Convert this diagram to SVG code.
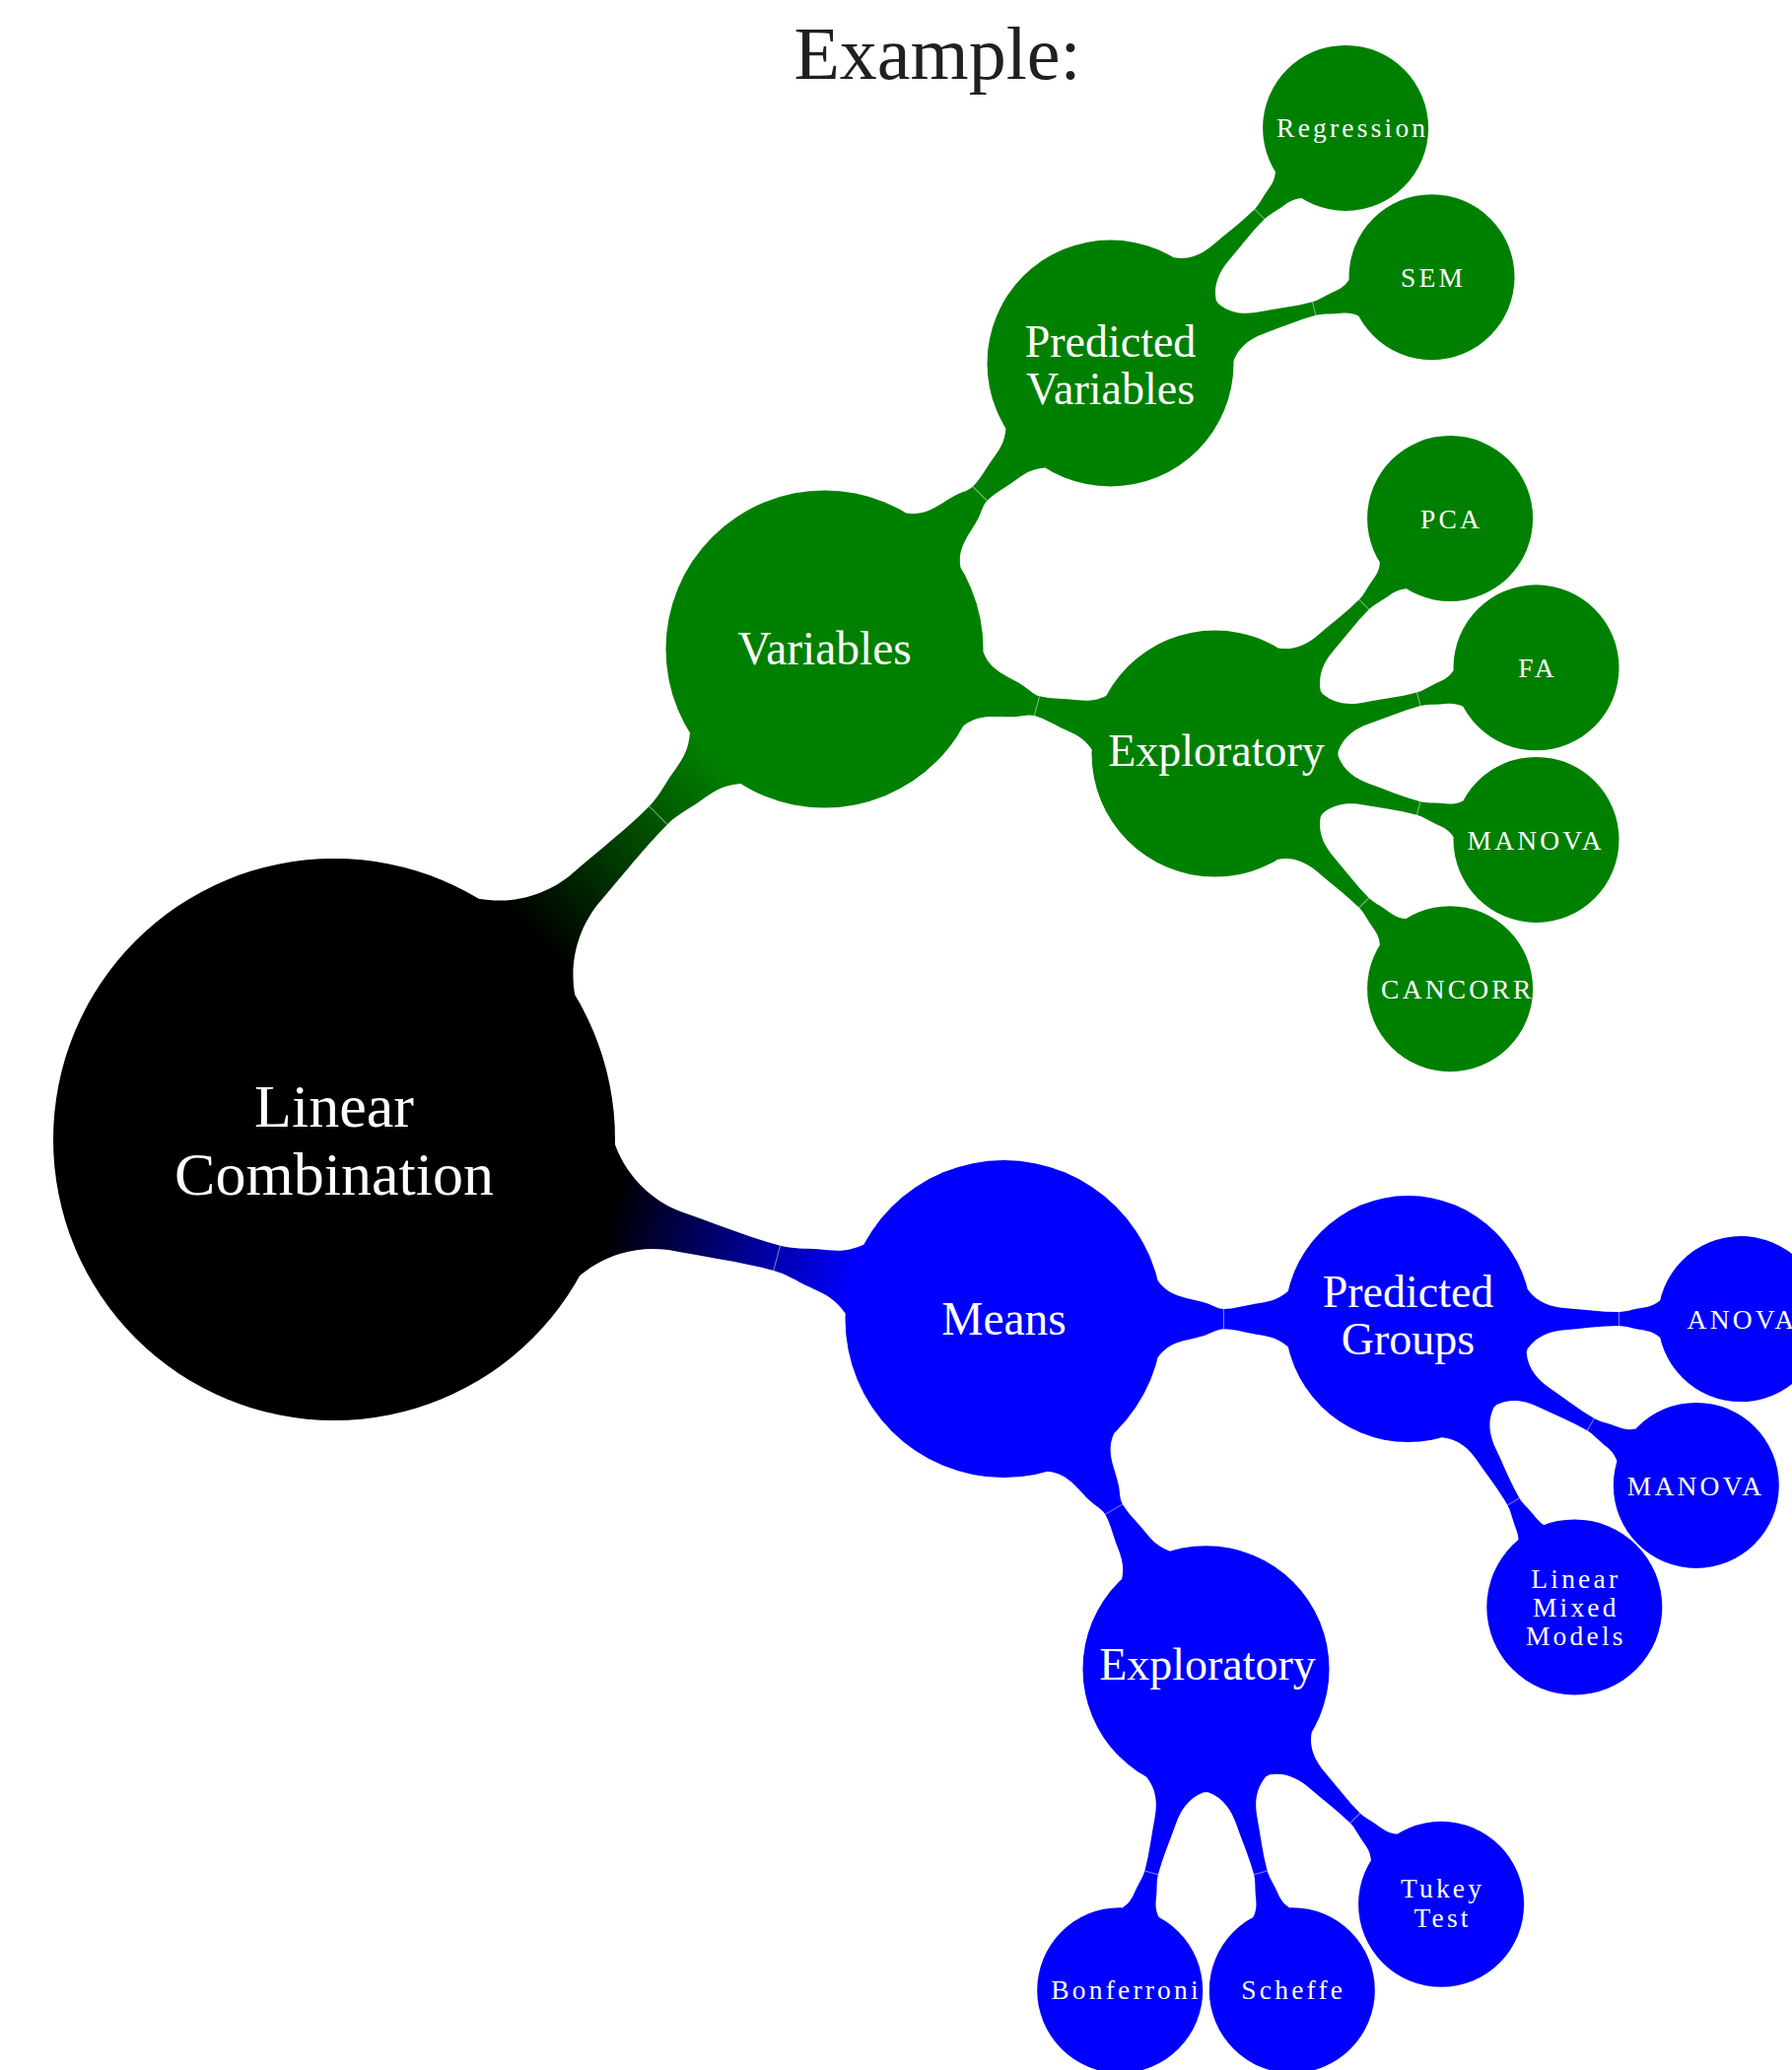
<svg xmlns="http://www.w3.org/2000/svg" width="1818" height="2100" viewBox="0 0 1818 2100">
<style>
.t{font-family:"Liberation Serif","Times New Roman",serif;fill:#fff;text-anchor:middle}
.root{font-size:62px}
.l1{font-size:47.5px}
.l2{font-size:46px}
.sm{font-size:27.5px;letter-spacing:3.2px}
.st{text-anchor:start}
.seam{stroke:#fff;stroke-opacity:.5;stroke-width:1;fill:none}
.g{fill:#008000}
.b{fill:#0000ff}
.k{fill:#000000}
.title{font-family:"Liberation Serif","Times New Roman",serif;font-size:76px;fill:#231f20;text-anchor:middle}
</style>
<defs>
<linearGradient id="gradG" gradientUnits="userSpaceOnUse" x1="290" y1="0" x2="545" y2="0"><stop offset="0" stop-color="#000000"/><stop offset="1" stop-color="#008000"/></linearGradient>
<linearGradient id="gradB" gradientUnits="userSpaceOnUse" x1="290" y1="0" x2="545" y2="0"><stop offset="0" stop-color="#000000"/><stop offset="1" stop-color="#0000ff"/></linearGradient>
<g id="bar12">
<path d="M0,0 L156.2,38.9 C168.7,21.1 187.6,21.9 204.5,16.3 C210.7,14.3 216.8,10.2 223,10.2 C233.5,10.2 244,13.6 254.5,15.3 C268,17.5 276.6,18.3 288.2,28.1 L410,0 L288.2,-28.1 C276.6,-18.3 268,-17.5 254.5,-15.3 C244,-13.6 233.5,-10.2 223,-10.2 C216.8,-10.2 210.7,-14.3 204.5,-16.3 C187.6,-21.9 168.7,-21.1 156.2,-38.9 Z"/>
<line class="seam" x1="223" y1="-10.2" x2="223" y2="10.2"/>
</g>
<g id="bar23">
<path d="M0,0 L121.3,30.2 C131,16.4 145.7,12.2 158.8,11.2 C177.2,9.8 195.6,7 214,7 C220.3,7 226.7,9.3 233,10.5 C242.1,12.2 247.9,12.3 255.7,18.9 L337.5,0 L255.7,-18.9 C247.9,-12.3 242.1,-12.2 233,-10.5 C226.7,-9.3 220.3,-7 214,-7 C195.6,-7 177.2,-9.8 158.8,-11.2 C145.7,-12.2 131,-16.4 121.3,-30.2 Z"/>
<line class="seam" x1="214" y1="-7" x2="214" y2="7"/>
</g>
</defs>
<rect width="1818" height="2100" fill="#ffffff"/>
<text class="title" x="951" y="80">Example:</text>
<g id="connectors">
<g transform="translate(339 1156) rotate(-45)">
<path fill="url(#gradG)" d="M0,0 L276.5,68.9 C298.6,37.4 332,22.2 362,20 C396.3,17.5 430.7,13 465,13 C477.7,13 490.3,17 503,19.5 C520.4,22.5 531.6,23.6 546.6,36.2 L703.5,0 L546.6,-36.2 C531.6,-23.6 520.4,-22.5 503,-19.5 C490.3,-17 477.7,-13 465,-13 C430.7,-13 396.3,-17.5 362,-20 C332,-22.2 298.6,-37.4 276.5,-68.9 Z"/>
<line class="seam" x1="465" y1="-13" x2="465" y2="13"/>
</g>
<g transform="translate(339 1156) rotate(15)">
<path fill="url(#gradB)" d="M0,0 L276.5,68.9 C298.6,37.4 332,22.2 362,20 C396.3,17.5 430.7,13 465,13 C477.7,13 490.3,17 503,19.5 C520.4,22.5 531.6,23.6 546.6,36.2 L703.5,0 L546.6,-36.2 C531.6,-23.6 520.4,-22.5 503,-19.5 C490.3,-17 477.7,-13 465,-13 C430.7,-13 396.3,-17.5 362,-20 C332,-22.2 298.6,-37.4 276.5,-68.9 Z"/>
<line class="seam" x1="465" y1="-13" x2="465" y2="13"/>
</g>
<use href="#bar12" class="g" transform="translate(836.5 658.5) rotate(-45)"/>
<use href="#bar12" class="g" transform="translate(836.5 658.5) rotate(15)"/>
<use href="#bar12" class="b" transform="translate(1018.5 1338.1) rotate(0)"/>
<use href="#bar12" class="b" transform="translate(1018.5 1338.1) rotate(60)"/>
<use href="#bar23" class="g" transform="translate(1126.5 368.5) rotate(-45)"/>
<use href="#bar23" class="g" transform="translate(1126.5 368.5) rotate(-15)"/>
<use href="#bar23" class="g" transform="translate(1232.5 764.6) rotate(-45)"/>
<use href="#bar23" class="g" transform="translate(1232.5 764.6) rotate(-15)"/>
<use href="#bar23" class="g" transform="translate(1232.5 764.6) rotate(15)"/>
<use href="#bar23" class="g" transform="translate(1232.5 764.6) rotate(45)"/>
<use href="#bar23" class="b" transform="translate(1428.5 1338.1) rotate(0)"/>
<use href="#bar23" class="b" transform="translate(1428.5 1338.1) rotate(30)"/>
<use href="#bar23" class="b" transform="translate(1428.5 1338.1) rotate(60)"/>
<use href="#bar23" class="b" transform="translate(1223.5 1693.2) rotate(105)"/>
<use href="#bar23" class="b" transform="translate(1223.5 1693.2) rotate(75)"/>
<use href="#bar23" class="b" transform="translate(1223.5 1693.2) rotate(45)"/>
</g>
<g id="n-root"><circle class="k" cx="339" cy="1156" r="285"/><text class="t root" x="339" y="1142.5">Linear</text><text class="t root" x="339" y="1211.5">Combination</text></g>
<g id="n-variables"><circle class="g" cx="836.5" cy="658.5" r="161"/><text class="t l1" x="836.5" y="674">Variables</text></g>
<g id="n-means"><circle class="b" cx="1018.5" cy="1338.1" r="161"/><text class="t l1" x="1018.5" y="1354">Means</text></g>
<g id="n-predicted-variables"><circle class="g" cx="1126.5" cy="368.5" r="125"/><text class="t l2" x="1126.5" y="362">Predicted</text><text class="t l2" x="1126.5" y="409.5">Variables</text></g>
<g id="n-exploratory-g"><circle class="g" cx="1232.5" cy="764.6" r="125"/><text class="t l2" x="1234" y="777">Exploratory</text></g>
<g id="n-predicted-groups"><circle class="b" cx="1428.5" cy="1338.1" r="125"/><text class="t l2" x="1428.5" y="1326">Predicted</text><text class="t l2" x="1428.5" y="1374">Groups</text></g>
<g id="n-exploratory-b"><circle class="b" cx="1223.5" cy="1693.2" r="125"/><text class="t l2" x="1225" y="1704">Exploratory</text></g>
<g id="n-regression"><circle class="g" cx="1365.1" cy="129.9" r="84"/><text class="t sm st" x="1295.1" y="139">Regression</text></g>
<g id="n-sem"><circle class="g" cx="1452.5" cy="281.2" r="84"/><text class="t sm" x="1454" y="291">SEM</text></g>
<g id="n-pca"><circle class="g" cx="1471.1" cy="526" r="84"/><text class="t sm" x="1472.6" y="535.5">PCA</text></g>
<g id="n-fa"><circle class="g" cx="1558.5" cy="677.3" r="84"/><text class="t sm" x="1560" y="687">FA</text></g>
<g id="n-manova-g"><circle class="g" cx="1558.5" cy="851.9" r="84"/><text class="t sm st" x="1488.5" y="861.5">MANOVA</text></g>
<g id="n-cancorr"><circle class="g" cx="1471.1" cy="1003.2" r="84"/><text class="t sm st" x="1401.1" y="1012.5">CANCORR</text></g>
<g id="n-anova"><circle class="b" cx="1766" cy="1338.1" r="84"/><text class="t sm" x="1767.5" y="1347.5">ANOVA</text></g>
<g id="n-manova-b"><circle class="b" cx="1720.8" cy="1506.9" r="84"/><text class="t sm st" x="1650.8" y="1516.5">MANOVA</text></g>
<g id="n-lmm"><circle class="b" cx="1597.3" cy="1630.4" r="89"/><text class="t sm" x="1598.8" y="1610.5">Linear</text><text class="t sm" x="1598.8" y="1639.5">Mixed</text><text class="t sm" x="1598.8" y="1668.5">Models</text></g>
<g id="n-bonferroni"><circle class="b" cx="1136.2" cy="2019.2" r="84"/><text class="t sm st" x="1066.2" y="2028">Bonferroni</text></g>
<g id="n-scheffe"><circle class="b" cx="1310.8" cy="2019.2" r="84"/><text class="t sm" x="1312.3" y="2028">Scheffe</text></g>
<g id="n-tukey"><circle class="b" cx="1462.1" cy="1931.8" r="84"/><text class="t sm" x="1463.6" y="1925">Tukey</text><text class="t sm" x="1463.6" y="1954.5">Test</text></g>
</svg>
